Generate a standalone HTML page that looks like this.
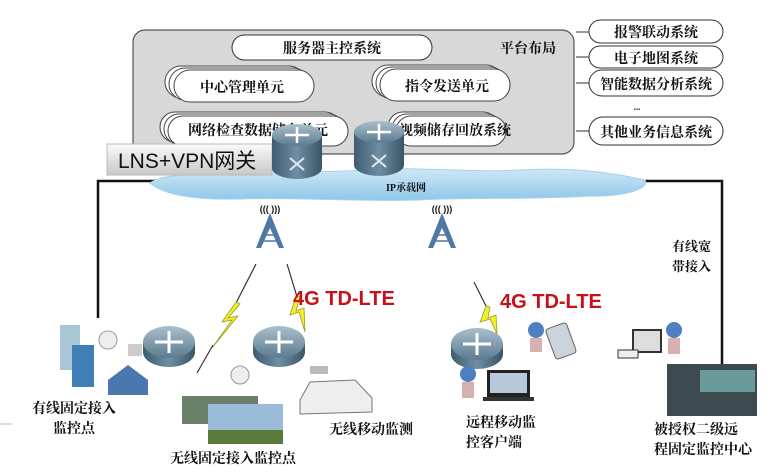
<!DOCTYPE html>
<html><head><meta charset="utf-8"><style>
html,body{margin:0;padding:0;background:#fff;width:774px;height:473px;overflow:hidden}
text{font-family:"Liberation Serif","Noto Serif CJK SC","Noto Sans CJK SC",serif;font-weight:bold;fill:#111}
.s{font-family:"Liberation Sans","Noto Sans CJK SC",sans-serif}
</style></head><body>
<svg width="774" height="473" viewBox="0 0 774 473" xmlns="http://www.w3.org/2000/svg">
<defs>
<linearGradient id="rt" x1="0" y1="0" x2="0" y2="1"><stop offset="0" stop-color="#a9bfcd"/><stop offset="1" stop-color="#5c7b90"/></linearGradient>
<linearGradient id="rs" x1="0" y1="0" x2="1" y2="0"><stop offset="0" stop-color="#3f5c70"/><stop offset="0.5" stop-color="#6f8ea3"/><stop offset="1" stop-color="#3a5567"/></linearGradient>
<linearGradient id="lns" x1="0" y1="0" x2="0" y2="1"><stop offset="0" stop-color="#fafafa"/><stop offset="1" stop-color="#c8c8c8"/></linearGradient>
<linearGradient id="cl" x1="0" y1="0" x2="0" y2="1"><stop offset="0" stop-color="#cde8f7"/><stop offset="1" stop-color="#8fc7e8"/></linearGradient>
</defs>
<polyline points="160,181 98,181 98,318" fill="none" stroke="#111" stroke-width="2.5"/>
<polyline points="640,181 722,181 722,400" fill="none" stroke="#111" stroke-width="2.5"/>
<rect x="133" y="30" width="441" height="124" rx="12" fill="#d8d8d8" stroke="#555" stroke-width="1.2"/>
<rect x="232" y="35" width="200" height="25" rx="12.5" fill="#fff" stroke="#333"/>
<text x="332" y="53" text-anchor="middle" font-size="14">服务器主控系统</text>
<text x="500" y="53" font-size="14">平台布局</text>
<rect x="165" y="66" width="140" height="32" rx="16" fill="#fff" stroke="#444"/>
<rect x="169" y="68" width="140" height="32" rx="16" fill="#fff" stroke="#444"/>
<rect x="174" y="70" width="140" height="32" rx="16" fill="#fff" stroke="#444"/>
<text x="242" y="92" text-anchor="middle" font-size="14">中心管理单元</text>
<rect x="372" y="65" width="130" height="32" rx="16" fill="#fff" stroke="#444"/>
<rect x="376" y="67" width="130" height="32" rx="16" fill="#fff" stroke="#444"/>
<rect x="380" y="69" width="130" height="32" rx="16" fill="#fff" stroke="#444"/>
<text x="447" y="91" text-anchor="middle" font-size="14">指令发送单元</text>
<rect x="160" y="112" width="180" height="30" rx="15" fill="#fff" stroke="#444"/>
<rect x="164" y="114" width="180" height="30" rx="15" fill="#fff" stroke="#444"/>
<rect x="168" y="116" width="180" height="30" rx="15" fill="#fff" stroke="#444"/>
<text x="258" y="135" text-anchor="middle" font-size="14">网络检查数据储存单元</text>
<rect x="388" y="112" width="110" height="30" rx="15" fill="#fff" stroke="#444"/>
<rect x="392" y="114" width="110" height="30" rx="15" fill="#fff" stroke="#444"/>
<rect x="396" y="116" width="110" height="30" rx="15" fill="#fff" stroke="#444"/>
<text x="455" y="135" text-anchor="middle" font-size="14">视频储存回放系统</text>
<g stroke="#333" fill="#fff">
<rect x="589" y="20" width="134" height="23" rx="11.5"/>
<rect x="589" y="46" width="134" height="22" rx="11"/>
<rect x="589" y="70" width="134" height="26" rx="13"/>
<rect x="589" y="117" width="134" height="28" rx="14"/>
</g>
<g stroke="#333"><line x1="576" y1="32" x2="589" y2="32"/><line x1="576" y1="57" x2="589" y2="57"/><line x1="576" y1="83" x2="589" y2="83"/><line x1="576" y1="131" x2="589" y2="131"/></g>
<text x="656" y="37" text-anchor="middle" font-size="14">报警联动系统</text>
<text x="656" y="63" text-anchor="middle" font-size="14">电子地图系统</text>
<text x="656" y="89" text-anchor="middle" font-size="14">智能数据分析系统</text>
<text x="637" y="110" text-anchor="middle" font-size="9">...</text>
<text x="656" y="137" text-anchor="middle" font-size="14">其他业务信息系统</text>
<path d="M150,183 C165,172 200,176 230,172 C280,168 320,174 360,170 C420,166 470,173 520,170 C570,167 610,172 645,180 C650,190 620,197 590,196 C530,200 470,197 420,200 C360,202 300,197 240,199 C200,200 165,196 150,183 Z" fill="url(#cl)" stroke="#a8d2ec"/>
<text x="406" y="191" text-anchor="middle" font-size="10" fill="#333">IP承载网</text>
<rect x="107" y="144" width="165" height="31" fill="url(#lns)" stroke="#bbb"/>
<text x="118" y="168" font-size="21" class="s" style="font-weight:normal">LNS+VPN网关</text>
<g id="tr">
<path d="M272,135 L272,168 A25,11 0 0 0 322,168 L322,135 Z" fill="url(#rs)"/>
<ellipse cx="297" cy="135" rx="25" ry="11" fill="url(#rt)"/>
<path d="M285,135 H309 M297,127 V143" stroke="#fff" stroke-width="2.5"/>
<path d="M290,158 L304,170 M304,158 L290,170" stroke="#dfe8ee" stroke-width="2"/>
</g>
<use href="#tr" transform="translate(82,-3)"/>
<g id="tw">
<path d="M270,213 L256,248 L261,248 L270,228 L279,248 L284,248 Z" fill="#4f78a6"/>
<path d="M264,235 L276,235 M262,241 L278,241" stroke="#4f78a6" stroke-width="1.5"/>
<text x="270" y="212" text-anchor="middle" font-size="9" fill="#4f78a6" class="s">((( )))</text>
</g>
<use href="#tw" transform="translate(172,0)"/>
<g stroke="#333" stroke-width="1.2">
<line x1="256" y1="264" x2="235" y2="305"/>
<line x1="287" y1="264" x2="298" y2="300"/>
<line x1="474" y1="282" x2="488" y2="310"/>
<line x1="213" y1="345" x2="197" y2="373"/>
</g>
<g fill="#f0f030" stroke="#9a9a20" stroke-width="0.8">
<path d="M236,302 L222,322 L232,320 L212,348 L238,316 L228,318 L240,304 Z"/>
<path d="M296,296 L290,315 L299,312 L305,332 L304,308 L296,311 L300,297 Z"/>
<path d="M486,306 L480,322 L490,319 L497,334 L496,315 L488,318 L490,307 Z"/>
</g>
<text x="293" y="305" font-size="20" class="s" style="fill:#c8101a">4G TD-LTE</text>
<text x="500" y="308" font-size="20" class="s" style="fill:#c8101a">4G TD-LTE</text>
<g id="br">
<path d="M143,342 L143,352 A26,15 0 0 0 195,352 L195,342 Z" fill="url(#rs)"/>
<ellipse cx="169" cy="342" rx="26" ry="16" fill="url(#rt)"/>
<path d="M155,342 H183 M169,331 V353" stroke="#fff" stroke-width="3"/>
</g>
<use href="#br" transform="translate(110,0)"/>
<use href="#br" transform="translate(308,2)"/>
<rect x="60" y="325" width="20" height="45" fill="#a8c6d6"/>
<rect x="72" y="345" width="22" height="42" fill="#3f7fb5"/>
<circle cx="108" cy="340" r="9" fill="#eee" stroke="#999"/>
<path d="M108,380 L128,365 L148,380 L148,395 L108,395 Z" fill="#4b77b0"/>
<rect x="128" y="344" width="14" height="12" fill="#ccc"/>
<circle cx="240" cy="375" r="9" fill="#eee" stroke="#999"/>
<rect x="182" y="396" width="76" height="28" fill="#6a8068"/>
<rect x="208" y="404" width="75" height="40" fill="#9bbcd8"/>
<rect x="208" y="430" width="75" height="14" fill="#5a7a3a"/>
<path d="M300,400 L310,382 L355,380 L372,398 L372,412 L300,414 Z" fill="#eee" stroke="#777"/>
<rect x="310" y="366" width="18" height="8" fill="#bbb"/>
<circle cx="536" cy="330" r="8" fill="#4e7fc0"/><rect x="530" y="338" width="12" height="14" fill="#d9b0b0"/>
<rect x="550" y="325" width="22" height="32" rx="3" fill="#cbd3dc" stroke="#666" transform="rotate(-20 561 341)"/>
<circle cx="468" cy="374" r="8" fill="#4e7fc0"/><rect x="462" y="382" width="12" height="16" fill="#d9b0b0"/>
<rect x="487" y="370" width="43" height="27" fill="#222"/><rect x="490" y="373" width="37" height="20" fill="#b9c9dc"/>
<rect x="483" y="397" width="51" height="4" fill="#333"/>
<rect x="633" y="330" width="28" height="22" fill="#ddd" stroke="#333" stroke-width="2"/>
<rect x="618" y="350" width="20" height="8" fill="#eee" stroke="#333"/>
<circle cx="674" cy="330" r="8" fill="#4e7fc0"/><rect x="668" y="338" width="12" height="16" fill="#d9b0b0"/>
<rect x="667" y="364" width="90" height="52" fill="#3d4a50"/>
<rect x="700" y="370" width="55" height="22" fill="#6a9a9a"/>
<text x="74" y="413" text-anchor="middle" font-size="14">有线固定接入</text>
<text x="74" y="433" text-anchor="middle" font-size="14">监控点</text>
<text x="233" y="463" text-anchor="middle" font-size="14">无线固定接入监控点</text>
<text x="371" y="434" text-anchor="middle" font-size="14">无线移动监测</text>
<text x="466" y="427" font-size="14">远程移动监</text>
<text x="466" y="447" font-size="14">控客户端</text>
<text x="654" y="434" font-size="14">被授权二级远</text>
<text x="654" y="454" font-size="14">程固定监控中心</text>
<text x="672" y="251" font-size="13">有线宽</text>
<text x="672" y="271" font-size="13">带接入</text>
<line x1="0" y1="424" x2="12" y2="424" stroke="#bbb"/>
</svg>
</body></html>
